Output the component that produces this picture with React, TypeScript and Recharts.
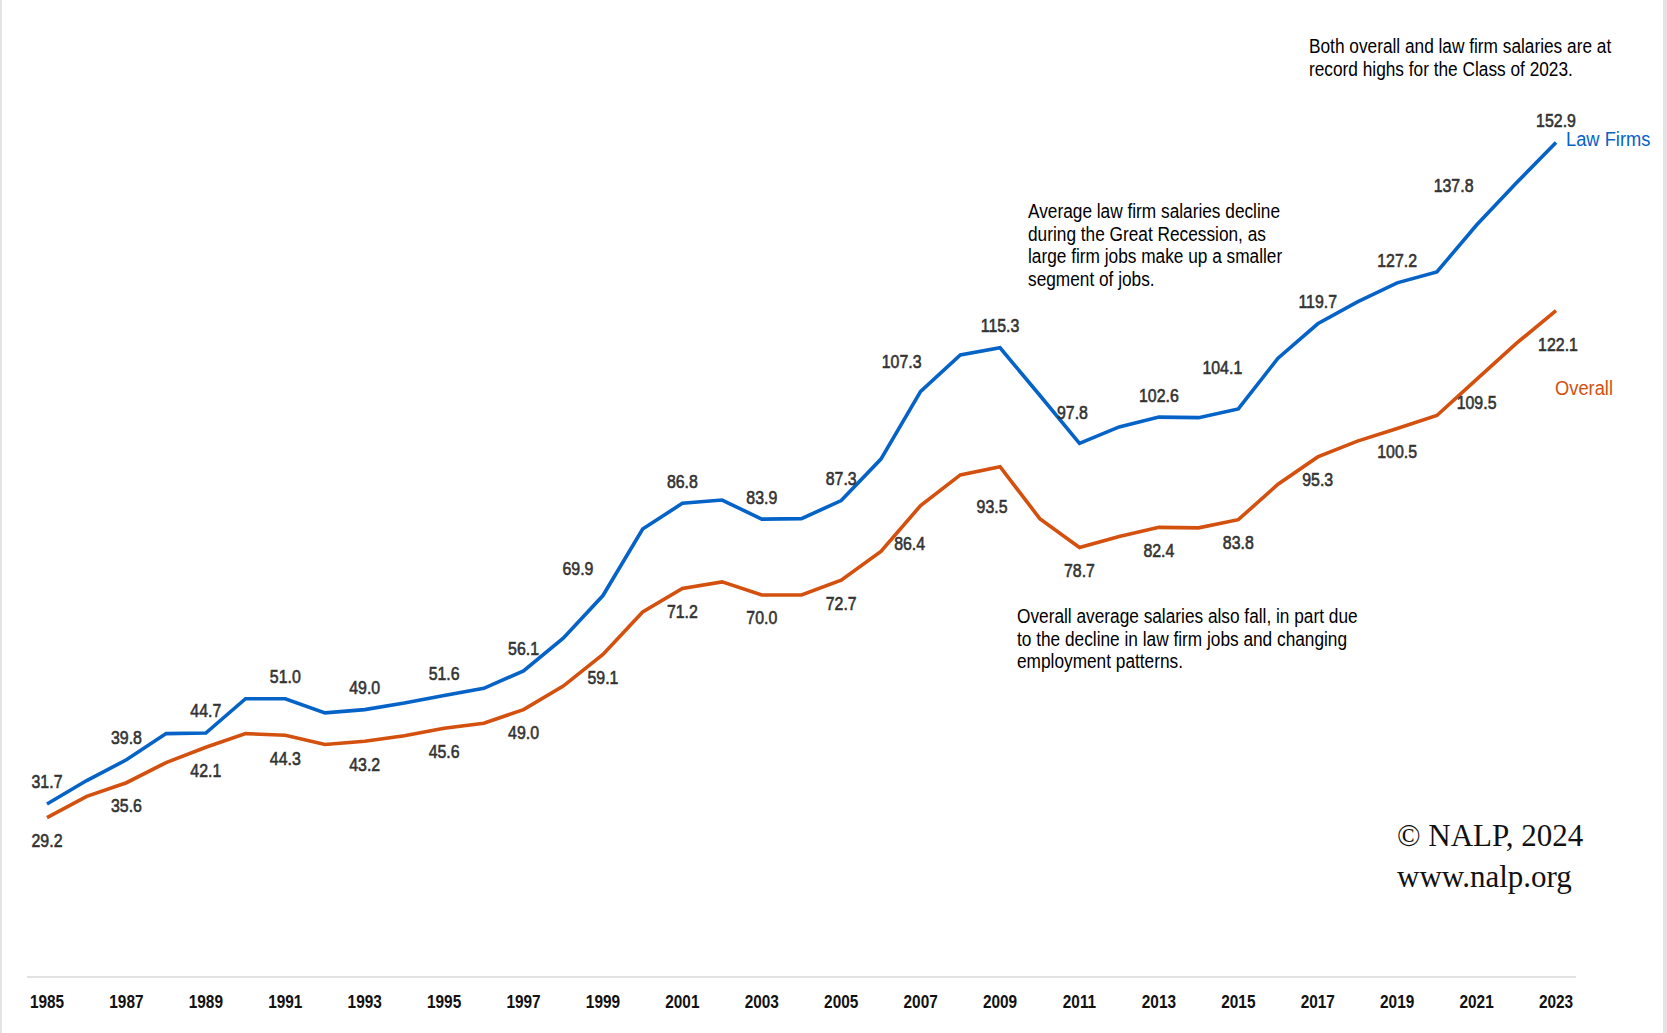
import * as React from "react";
import { LineChart, Line, XAxis, YAxis } from "recharts";

const YEARS = [
  1985, 1986, 1987, 1988, 1989, 1990, 1991, 1992, 1993, 1994, 1995, 1996, 1997,
  1998, 1999, 2000, 2001, 2002, 2003, 2004, 2005, 2006, 2007, 2008, 2009, 2010,
  2011, 2012, 2013, 2014, 2015, 2016, 2017, 2018, 2019, 2020, 2021, 2022, 2023,
];

// average starting salaries, $ thousands
const LAW_FIRMS = [
  31.7, 36.0, 39.8, 44.6, 44.7, 51.0, 51.0, 48.4, 49.0, 50.2, 51.6, 52.9, 56.1,
  62.1, 69.9, 82.1, 86.8, 87.4, 83.9, 84.0, 87.3, 94.9, 107.3, 114.0, 115.3, 106.6,
  97.8, 100.8, 102.6, 102.5, 104.1, 113.4, 119.7, 123.7, 127.2, 129.2, 137.8, 145.5, 152.9,
];

const OVERALL = [
  29.2, 33.1, 35.6, 39.3, 42.1, 44.6, 44.3, 42.6, 43.2, 44.2, 45.6, 46.5, 49.0,
  53.3, 59.1, 66.9, 71.2, 72.4, 70.0, 70.0, 72.7, 78.0, 86.4, 92.0, 93.5, 84.0,
  78.7, 80.7, 82.4, 82.3, 83.8, 90.3, 95.3, 98.2, 100.5, 102.9, 109.5, 116.1, 122.1,
];

const TICK_YEARS = YEARS.filter((_, i) => i % 2 === 0);

// labels that sit off their usual spot so they clear the line
const LAW_LABEL_NUDGE: Record<number, [number, number]> = {
  1999: [-25, -27],
  2007: [-19, -30],
  2011: [-7, -31],
  2015: [-16, -41],
  2021: [-23, -39],
};
const OVERALL_LABEL_NUDGE: Record<number, [number, number]> = {
  2007: [-11, 38],
  2009: [-8, 40],
  2023: [2, 34],
};

const data = YEARS.map((year, i) => ({
  year,
  lawFirms: LAW_FIRMS[i],
  overall: OVERALL[i],
}));

const BLUE = "#0563c8";
const ORANGE = "#d4500f";
const SANS = '"Liberation Sans", Arial, sans-serif';

function pointLabel(above: boolean) {
  const nudge = above ? LAW_LABEL_NUDGE : OVERALL_LABEL_NUDGE;
  return (props: any) => {
    const { x, y, value, index } = props;
    if (index % 2 !== 0) return null;
    const [dx, dy] = nudge[YEARS[index]] ?? [0, above ? -22 : 23];
    return (
      <g key={`lbl-${above ? "a" : "b"}-${index}`} transform={`translate(${x + dx},${y + dy}) scale(0.86,1)`}>
        <text
          x={0}
          y={0}
          textAnchor="middle"
          dominantBaseline="central"
          fontFamily={SANS}
          fontSize={18.5}
          fill="#333"
          stroke="#333"
          strokeWidth={0.6}
        >
          {Number(value).toFixed(1)}
        </text>
      </g>
    );
  };
}

function YearTick(props: any) {
  const { x, y, payload } = props;
  return (
    <g transform={`translate(${x},${y}) scale(0.88,1)`}>
      <text
        x={0}
        y={0}
        dy={12.5}
        textAnchor="middle"
        fontFamily={SANS}
        fontSize={17.5}
        fontWeight={700}
        fill="#111"
      >
        {payload.value}
      </text>
    </g>
  );
}

const note: React.CSSProperties = {
  position: "absolute",
  fontFamily: SANS,
  fontSize: 20,
  lineHeight: "22.6px",
  color: "#000",
  whiteSpace: "nowrap",
  transform: "scaleX(0.863)",
  transformOrigin: "left top",
};

export default function App() {
  return (
    <div
      style={{
        position: "absolute",
        left: 0,
        top: 0,
        width: 1667,
        height: 1033,
        background: "#fff",
        borderLeft: "2px solid #e3e3e3",
        borderRight: "4px solid #e3e3e3",
        boxSizing: "border-box",
      }}
    >
      <div style={{ position: "absolute", left: -2, top: 0 }}>
        <LineChart
          width={1667}
          height={1033}
          data={data}
          margin={{ top: 22, right: 91, left: 27, bottom: 16 }}
        >
          <XAxis
            dataKey="year"
            ticks={TICK_YEARS}
            interval={0}
            padding={{ left: 20, right: 20 }}
            height={40}
            tickLine={false}
            axisLine={{ stroke: "#d9d9d9", strokeWidth: 1.5 }}
            tick={<YearTick />}
            tickMargin={12}
          />
          <YAxis hide domain={[0, 175]} />
          <Line
            dataKey="lawFirms"
            stroke={BLUE}
            strokeWidth={3.6}
            dot={false}
            activeDot={false}
            isAnimationActive={false}
            label={pointLabel(true)}
          />
          <Line
            dataKey="overall"
            stroke={ORANGE}
            strokeWidth={3.6}
            dot={false}
            activeDot={false}
            isAnimationActive={false}
            label={pointLabel(false)}
          />
        </LineChart>
      </div>

      <div style={{ ...note, left: 1307, top: 35 }}>
        Both overall and law firm salaries are at
        <br />
        record highs for the Class of 2023.
      </div>
      <div style={{ ...note, left: 1026, top: 200 }}>
        Average law firm salaries decline
        <br />
        during the Great Recession, as
        <br />
        large firm jobs make up a smaller
        <br />
        segment of jobs.
      </div>
      <div style={{ ...note, left: 1015, top: 605 }}>
        Overall average salaries also fall, in part due
        <br />
        to the decline in law firm jobs and changing
        <br />
        employment patterns.
      </div>

      <div style={{ ...note, left: 1564, top: 128, color: BLUE, transform: "scaleX(0.915)" }}>Law Firms</div>
      <div style={{ ...note, left: 1553, top: 377, color: ORANGE, transform: "scaleX(0.915)" }}>Overall</div>

      <div
        style={{
          position: "absolute",
          left: 1395,
          top: 815,
          fontFamily: '"Liberation Serif", "DejaVu Serif", serif',
          fontSize: 31,
          lineHeight: "41px",
          color: "#111",
          whiteSpace: "nowrap",
        }}
      >
        © NALP, 2024
        <br />
        www.nalp.org
      </div>
    </div>
  );
}
